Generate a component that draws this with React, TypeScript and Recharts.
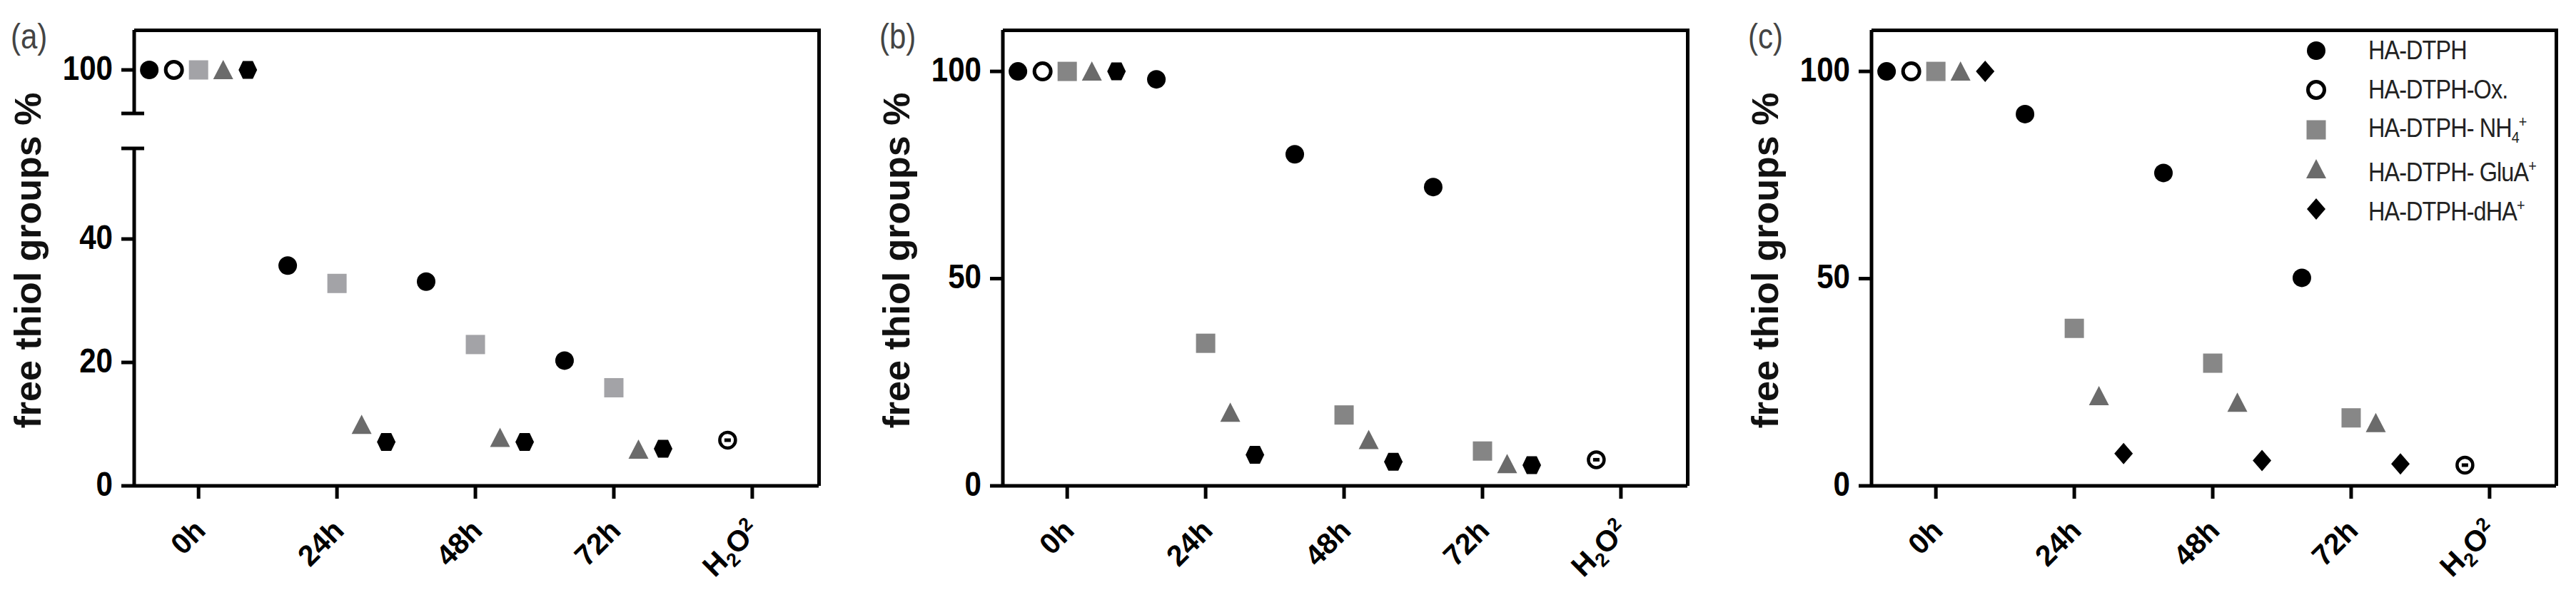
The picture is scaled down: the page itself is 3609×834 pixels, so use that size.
import React from "react";
import { ScatterChart, Scatter, XAxis, YAxis } from "recharts";

const CATEGORIES = ["0h", "24h", "48h", "72h", "H2O2"];
const SERIES_NAMES = ["HA-DTPH", "HA-DTPH-Ox.", "HA-DTPH- NH4+", "HA-DTPH- GluA+", "HA-DTPH-dHA+"];

// (a) free thiol groups %, values at 0h / 24h / 48h / 72h
const A_DTPH = [100, 35.7, 33.1, 20.3];
const A_OX = [100];
const A_NH4 = [100, 32.8, 22.9, 15.9];
const A_GLUA = [100, 9.9, 7.8, 5.9];
const A_DHA = [100, 7.1, 7.1, 6.0];
const A_H2O2 = [7.4];

// (b)
const B_DTPH = [100, 98.1, 80.0, 72.1];
const B_OX = [100];
const B_NH4 = [100, 34.4, 17.1, 8.4];
const B_GLUA = [100, 17.7, 11.1, 5.3];
const B_DHA = [100, 7.5, 5.8, 5.0];
const B_H2O2 = [6.3];

// (c)
const C_DTPH = [100, 89.7, 75.5, 50.2];
const C_OX = [100];
const C_NH4 = [100, 38.0, 29.6, 16.4];
const C_GLUA = [100, 21.7, 20.1, 15.2];
const C_DHA = [100, 7.8, 6.1, 5.3];
const C_H2O2 = [5.0];

const Y_TICKS_A_HIGH = [100];
const Y_TICKS_A_LOW = [0, 20, 40];
const Y_TICKS_BC = [0, 50, 100];

// layout
const PANEL_W = 1217;
const CHART_W = 1170;
const CHART_H = 834;
const AXIS_W = 188;
const PLOT_TOP = 42;
const PLOT_BOTTOM = 681;
const PLOT_RIGHT = 1147;
const BREAK_HIGH = 159; // bottom of the upper segment in (a)
const BREAK_LOW = 208; // top of the lower segment in (a)
const UPPER_H = 200;
const X_DOMAIN = [-0.465, 4.48];
const DODGE = 0.178;
const STROKE = 5;

const SANS = "'Liberation Sans', Arial, sans-serif";

type Kind = "circle" | "open" | "square" | "triangle" | "hexagon" | "diamond" | "ring";

function Marker({ kind, cx, cy, fill }: { kind: Kind; cx: number; cy: number; fill: string }) {
  switch (kind) {
    case "circle":
      return <circle cx={cx} cy={cy} r={13} fill={fill} />;
    case "open":
      return <circle cx={cx} cy={cy} r={11.5} fill="#fff" stroke="#000" strokeWidth={5} />;
    case "square":
      return <rect x={cx - 13.5} y={cy - 13.5} width={27} height={27} fill={fill} />;
    case "triangle":
      return <polygon points={`${cx},${cy - 14} ${cx + 14},${cy + 13} ${cx - 14},${cy + 13}`} fill={fill} />;
    case "hexagon":
      return (
        <polygon
          points={`${cx - 13},${cy} ${cx - 7},${cy - 12.5} ${cx + 7},${cy - 12.5} ${cx + 13},${cy} ${cx + 7},${cy + 12.5} ${cx - 7},${cy + 12.5}`}
          fill={fill}
        />
      );
    case "diamond":
      return <polygon points={`${cx},${cy - 15} ${cx + 13},${cy} ${cx},${cy + 15} ${cx - 13},${cy}`} fill={fill} />;
    case "ring":
      return (
        <g>
          <circle cx={cx} cy={cy} r={11} fill="#fff" stroke="#000" strokeWidth={4.5} />
          <rect x={cx - 4.5} y={cy - 2.5} width={9} height={5} fill="#000" />
        </g>
      );
  }
  return null;
}

interface SeriesCfg {
  name: string;
  values: number[];
  start: number;
  slot: number;
  kind: Kind;
  color: string;
}

function makeSeries(vals: number[][], h2o2: number[], sq: string, tri: string, last: Kind): SeriesCfg[] {
  return [
    { name: SERIES_NAMES[0], values: vals[0], start: 0, slot: -2, kind: "circle", color: "#000" },
    { name: SERIES_NAMES[1], values: vals[1], start: 0, slot: -1, kind: "open", color: "#000" },
    { name: SERIES_NAMES[2], values: vals[2], start: 0, slot: 0, kind: "square", color: sq },
    { name: SERIES_NAMES[3], values: vals[3], start: 0, slot: 1, kind: "triangle", color: tri },
    { name: SERIES_NAMES[4], values: vals[4], start: 0, slot: 2, kind: last, color: "#000" },
    { name: "H2O2", values: h2o2, start: CATEGORIES.indexOf("H2O2"), slot: -1, kind: "ring", color: "#000" },
  ];
}

const PANELS = [
  { label: "(a)", broken: true, series: makeSeries([A_DTPH, A_OX, A_NH4, A_GLUA, A_DHA], A_H2O2, "#a3a3a7", "#6b6b6b", "hexagon") },
  { label: "(b)", broken: false, series: makeSeries([B_DTPH, B_OX, B_NH4, B_GLUA, B_DHA], B_H2O2, "#858585", "#6a6a6a", "hexagon") },
  { label: "(c)", broken: false, series: makeSeries([C_DTPH, C_OX, C_NH4, C_GLUA, C_DHA], C_H2O2, "#878787", "#6b6b6b", "diamond"), legend: true },
];

function toPoints(s: SeriesCfg) {
  return s.values.map((v, i) => ({ x: s.start + i + s.slot * DODGE, y: v }));
}

// y tick: condensed bold number, own tick mark; "caps" are the short bars closing the broken axis
function YTick(props: any, caps: number[]) {
  const { x, y, payload } = props;
  const isCap = caps.includes(payload.value);
  return (
    <g>
      <line x1={x + 12} x2={x + (isCap ? 44 : 30)} y1={y} y2={y} stroke="#000" strokeWidth={STROKE} />
      {!isCap && (
        <text
          transform={`translate(${x}, ${y - 3}) scale(0.86, 1)`}
          textAnchor="end"
          dominantBaseline="central"
          fontFamily={SANS}
          fontWeight="bold"
          fontSize={49}
          fill="#000"
        >
          {payload.value}
        </text>
      )}
    </g>
  );
}

function XTick(props: any) {
  const { x, y, payload } = props;
  const label = CATEGORIES[payload.value];
  const common = { fontFamily: SANS, fontWeight: "bold" as const, fontSize: 41, fill: "#000" };
  return (
    <g transform={`translate(${x + 12}, ${y + 45}) rotate(-45)`}>
      {label === "H2O2" ? (
        <text textAnchor="end" {...common}>
          H<tspan fontSize={27} dy={9}>2</tspan>
          <tspan dy={-9}>O</tspan>
          <tspan fontSize={27} dy={-14}>2</tspan>
        </text>
      ) : (
        <text textAnchor="end" {...common}>{label}</text>
      )}
    </g>
  );
}

function Scatters({ series, keep }: { series: SeriesCfg[]; keep: (v: number) => boolean }) {
  return (
    <>
      {series.map((s) => (
        <Scatter
          key={s.name}
          name={s.name}
          data={toPoints(s).filter((p) => keep(p.y))}
          isAnimationActive={false}
          shape={(p: any) => <Marker kind={s.kind} cx={p.cx} cy={p.cy} fill={s.color} />}
        />
      ))}
    </>
  );
}

function legendText(name: string) {
  if (name.endsWith("NH4+")) {
    return (
      <>
        {name.slice(0, -2)}
        <sub style={{ fontSize: 22, verticalAlign: -8 }}>4</sub>
        <sup style={{ fontSize: 22, verticalAlign: 14 }}>+</sup>
      </>
    );
  }
  if (name.endsWith("+")) {
    return (
      <>
        {name.slice(0, -1)}
        <sup style={{ fontSize: 22, verticalAlign: 14 }}>+</sup>
      </>
    );
  }
  return <>{name}</>;
}

function LegendBox({ series }: { series: SeriesCfg[] }) {
  return (
    <div style={{ position: "absolute", left: 790, top: 43 }}>
      {series.slice(0, 5).map((s) => (
        <div key={s.name} style={{ display: "flex", alignItems: "center", height: 55.5 }}>
          <svg width={42} height={40} style={{ flex: "none" }}>
            <Marker kind={s.kind} cx={21} cy={20} fill={s.color} />
          </svg>
          <div
            style={{
              marginLeft: 52,
              fontFamily: SANS,
              fontSize: 36,
              color: "#222",
              letterSpacing: -1,
              whiteSpace: "nowrap",
              lineHeight: "40px",
              transform: "scaleX(0.9)",
              transformOrigin: "left center",
            }}
          >
            {legendText(s.name)}
          </div>
        </div>
      ))}
    </div>
  );
}

function Panel({ cfg, left }: { cfg: any; left: number }) {
  const right = CHART_W - PLOT_RIGHT;
  const yAxisCommon = {
    type: "number" as const,
    dataKey: "y",
    width: AXIS_W,
    tickSize: 18,
    tickMargin: 12,
    tickLine: false,
    allowDataOverflow: true,
    axisLine: { stroke: "#000", strokeWidth: STROKE },
  };
  const xAxis = (
    <XAxis
      type="number"
      dataKey="x"
      domain={X_DOMAIN}
      ticks={[0, 1, 2, 3, 4]}
      allowDataOverflow
      height={CHART_H - PLOT_BOTTOM}
      tickSize={18}
      tickMargin={2}
      axisLine={{ stroke: "#000", strokeWidth: STROKE }}
      tickLine={{ stroke: "#000", strokeWidth: STROKE }}
      tick={XTick}
    />
  );
  // (a) keeps one scale (20 units per 173 px) on both sides of the axis break
  const lowMax = ((PLOT_BOTTOM - BREAK_LOW) / (PLOT_BOTTOM - 508)) * 20;
  const highLo = 100 - ((BREAK_HIGH - 98) / (PLOT_BOTTOM - 508)) * 20;
  const highHi = 100 + ((98 - PLOT_TOP) / (PLOT_BOTTOM - 508)) * 20;
  return (
    <div style={{ position: "absolute", left, top: 0, width: PANEL_W, height: CHART_H }}>
      {cfg.broken ? (
        <>
          <div style={{ position: "absolute", left: 0, top: 0 }}>
            <ScatterChart width={CHART_W} height={UPPER_H} margin={{ top: PLOT_TOP, right, bottom: UPPER_H - BREAK_HIGH, left: 0 }}>
              <XAxis type="number" dataKey="x" domain={X_DOMAIN} allowDataOverflow hide />
              <YAxis {...yAxisCommon} domain={[highLo, highHi]} ticks={[highLo, ...Y_TICKS_A_HIGH]} tick={(p: any) => YTick(p, [highLo])} />
              {Scatters({ series: cfg.series, keep: (v) => v >= highLo })}
            </ScatterChart>
          </div>
          <div style={{ position: "absolute", left: 0, top: 0 }}>
            <ScatterChart width={CHART_W} height={CHART_H} margin={{ top: BREAK_LOW, right, bottom: 0, left: 0 }}>
              {xAxis}
              <YAxis {...yAxisCommon} domain={[0, lowMax]} ticks={[...Y_TICKS_A_LOW, lowMax]} tick={(p: any) => YTick(p, [lowMax])} />
              {Scatters({ series: cfg.series, keep: (v) => v <= lowMax })}
            </ScatterChart>
          </div>
        </>
      ) : (
        <div style={{ position: "absolute", left: 0, top: 0 }}>
          <ScatterChart width={CHART_W} height={CHART_H} margin={{ top: PLOT_TOP, right, bottom: 0, left: 0 }}>
            {xAxis}
            <YAxis {...yAxisCommon} domain={[0, 110]} ticks={Y_TICKS_BC} tick={(p: any) => YTick(p, [])} />
            {Scatters({ series: cfg.series, keep: () => true })}
          </ScatterChart>
        </div>
      )}
      {/* top and right frame of the plot box */}
      <div
        style={{
          position: "absolute",
          left: AXIS_W,
          top: PLOT_TOP - 2,
          width: PLOT_RIGHT - AXIS_W + 3,
          height: PLOT_BOTTOM - PLOT_TOP + 2,
          borderTop: `${STROKE}px solid #000`,
          borderRight: `${STROKE}px solid #000`,
          boxSizing: "border-box",
          pointerEvents: "none",
        }}
      />
      <svg width={130} height={CHART_H} style={{ position: "absolute", left: 0, top: 0 }}>
        <text transform="translate(15, 68) scale(0.84, 1)" fontFamily={SANS} fontSize={50} fill="#444">
          {cfg.label}
        </text>
        <text
          x={57}
          y={365}
          transform="rotate(-90 57 365)"
          textAnchor="middle"
          fontFamily={SANS}
          fontWeight="bold"
          fontSize={52}
          fill="#111"
        >
          free thiol groups %
        </text>
      </svg>
      {cfg.legend && <LegendBox series={cfg.series} />}
    </div>
  );
}

export default function App() {
  return (
    <div style={{ position: "absolute", left: 0, top: 0, width: 3609, height: 834, overflow: "hidden", background: "#fff" }}>
      {PANELS.map((cfg, i) => (
        <Panel key={cfg.label} cfg={cfg} left={i * PANEL_W} />
      ))}
    </div>
  );
}
